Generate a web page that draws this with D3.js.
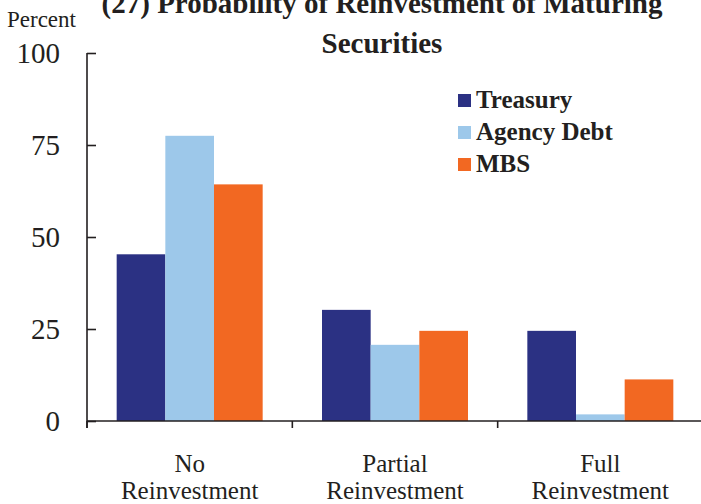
<!DOCTYPE html>
<html>
<head>
<meta charset="utf-8">
<script src="https://cdn.jsdelivr.net/npm/d3@7"></script>
<style>
  body { margin: 0; background: #fff; }
  svg { display: block; }
  text { font-family: "Liberation Serif", "Times New Roman", serif; fill: #231f20; }
</style>
</head>
<body>
<div id="chart"></div>
<script>
var categories = [["No", "Reinvestment"], ["Partial", "Reinvestment"], ["Full", "Reinvestment"]]
var seriesNames = ["Treasury", "Agency Debt", "MBS"]
var treasury = [45.3, 30.2, 24.5]
var agencyDebt = [77.5, 20.7, 1.8]
var mbs = [64.3, 24.5, 11.3]
var yTicks = [0, 25, 50, 75, 100]
var colors = ["#2b3183", "#9dc8ea", "#f26822"]

var W = 701, H = 504
var plotLeft = 87, plotRight = 703, plotTop = 53, plotBottom = 421

var svg = d3.select("#chart").append("svg")
    .attr("width", W)
    .attr("height", H)

var values = [treasury, agencyDebt, mbs]

var x0 = d3.scaleBand()
    .domain(d3.range(categories.length))
    .range([plotLeft, plotRight])

var groupW = x0.bandwidth() * 0.711
var x1 = d3.scaleBand()
    .domain(d3.range(seriesNames.length))
    .range([0, groupW])

var y = d3.scaleLinear().domain([0, 100]).range([plotBottom, plotTop])

// bars
var groups = svg.selectAll(".grp")
    .data(categories)
    .enter().append("g")
    .attr("class", "grp")
    .attr("transform", function(d, i) { return "translate(" + (x0(i) + (x0.bandwidth() - groupW) / 2) + ",0)" })

groups.selectAll("rect")
    .data(function(d, i) { return values.map(function(s) { return s[i] }) })
    .enter().append("rect")
    .attr("x", function(d, j) { return x1(j) })
    .attr("y", function(d) { return y(d) })
    .attr("width", x1.bandwidth())
    .attr("height", function(d) { return plotBottom - y(d) })
    .attr("fill", function(d, j) { return colors[j] })

// y axis
var yAxis = svg.append("g")
    .attr("transform", "translate(" + plotLeft + ",0)")
    .call(d3.axisRight(y).tickValues(yTicks).tickSize(9).tickFormat(""))
yAxis.select(".domain").attr("d", "M0," + plotTop + "V" + (plotBottom + 7))
yAxis.selectAll("line, path").attr("stroke", "#231f20").attr("stroke-width", 1.6)

svg.selectAll(".ylab")
    .data(yTicks)
    .enter().append("text")
    .attr("class", "ylab")
    .attr("x", 60)
    .attr("y", function(d) { return y(d) })
    .attr("dy", "0.35em")
    .attr("text-anchor", "end")
    .style("font-size", "29px")
    .text(function(d) { return d })

// x axis
var xAxis = svg.append("g")
    .attr("transform", "translate(0," + plotBottom + ")")
    .call(d3.axisBottom(x0).tickSize(0).tickFormat(""))
xAxis.select(".domain").attr("d", "M" + plotLeft + ",0H" + plotRight)
xAxis.selectAll("line, path").attr("stroke", "#231f20").attr("stroke-width", 1.6)
xAxis.selectAll(".sep")
    .data(d3.range(categories.length + 1))
    .enter().append("line")
    .attr("class", "sep")
    .attr("x1", function(i) { return plotLeft + i * x0.step() })
    .attr("x2", function(i) { return plotLeft + i * x0.step() })
    .attr("y1", 0)
    .attr("y2", 7)
    .attr("stroke", "#231f20")
    .attr("stroke-width", 1.6)

var xl = svg.selectAll(".xlab")
    .data(categories)
    .enter().append("text")
    .attr("class", "xlab")
    .attr("text-anchor", "middle")
    .style("font-size", "25px")
xl.append("tspan")
    .attr("x", function(d, i) { return x0(i) + x0.bandwidth() / 2 })
    .attr("y", 472)
    .text(function(d) { return d[0] })
xl.append("tspan")
    .attr("x", function(d, i) { return x0(i) + x0.bandwidth() / 2 })
    .attr("y", 499)
    .text(function(d) { return d[1] })

// title
svg.append("text")
    .attr("x", 382)
    .attr("y", 13)
    .attr("text-anchor", "middle")
    .style("font-size", "29px")
    .style("font-weight", "bold")
    .text("(27) Probability of Reinvestment of Maturing")
svg.append("text")
    .attr("x", 382)
    .attr("y", 53)
    .attr("text-anchor", "middle")
    .style("font-size", "29px")
    .style("font-weight", "bold")
    .text("Securities")

svg.append("text")
    .attr("x", 7)
    .attr("y", 27)
    .style("font-size", "23px")
    .text("Percent")

// legend
var legend = svg.selectAll(".leg")
    .data(seriesNames)
    .enter().append("g")
    .attr("class", "leg")
    .attr("transform", function(d, i) { return "translate(458," + (108 + i * 32) + ")" })
legend.append("rect")
    .attr("x", 0)
    .attr("y", -14)
    .attr("width", 13)
    .attr("height", 13)
    .attr("fill", function(d, i) { return colors[i] })
legend.append("text")
    .attr("x", 18)
    .attr("y", 0)
    .style("font-size", "25px")
    .style("font-weight", "bold")
    .text(function(d) { return d })
</script>
</body>
</html>
